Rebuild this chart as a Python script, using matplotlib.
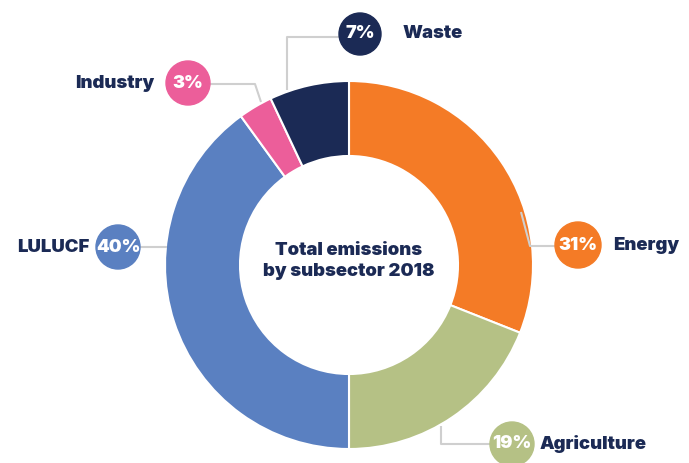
import matplotlib
matplotlib.use("Agg")
import matplotlib.pyplot as plt
from matplotlib.patches import Circle

# emissions share by subsector, 2018 (clockwise from 12 o'clock)
sectors = ["Energy", "Agriculture", "LULUCF", "Industry", "Waste"]
shares = [31, 19, 40, 3, 7]
colors = ["#F47B26", "#B5C185", "#5A80C1", "#EC5E9A", "#1B2A55"]

NAVY = "#1B2A55"
LINE = "#CFCFCF"
W, H = 689, 463

plt.rcParams["font.family"] = ["Inter", "DejaVu Sans"]

fig = plt.figure(figsize=(W / 100, H / 100), dpi=100)
ax = fig.add_axes([0, 0, 1, 1])

cx, cy, r = 349, H - 265, 184
ax.pie(shares, colors=colors, startangle=90, counterclock=False,
       center=(cx, cy), radius=r,
       wedgeprops=dict(width=75, edgecolor="white", linewidth=1.5))

ax.set_xlim(0, W)
ax.set_ylim(0, H)
ax.set_aspect("equal")
ax.axis("off")


def py(y):
    return H - y


# leader lines (pixel coords, y from top)
leaders = {
    "Waste": [(339, 37), (287, 37), (287, 90)],
    "Industry": [(210, 84), (255, 84), (261, 102)],
    "LULUCF": [(140, 247), (167, 247)],
    "Energy": [(521, 212), (530, 246), (556, 246)],
    "Agriculture": [(441, 426), (441, 444), (490, 444)],
}
for pts in leaders.values():
    ax.plot([p[0] for p in pts], [py(p[1]) for p in pts],
            color=LINE, lw=1.5, zorder=1, solid_capstyle="butt")

# badge centre, badge radius, name position and alignment
badges = {
    "Waste": ((360, 34), 21, (403, 34), "left"),
    "Industry": ((188, 83), 22, (154, 83), "right"),
    "LULUCF": ((118, 247), 22, (89, 247), "right"),
    "Energy": ((578, 245), 23, (613, 245), "left"),
    "Agriculture": ((512, 444), 22, (540, 444), "left"),
}
for name, share, col in zip(sectors, shares, colors):
    (bx, by), br, (tx, ty), ha = badges[name]
    ax.add_patch(Circle((bx, py(by)), br, color=col, zorder=3))
    ax.text(bx, py(by), f"{share}%", color="white", fontsize=13,
            fontweight=900, ha="center", va="center", zorder=4)
    ax.text(tx, py(ty), name, color=NAVY, fontsize=13.3,
            fontweight=900, ha=ha, va="center", zorder=4)

ax.text(cx, py(261), "Total emissions\nby subsector 2018", color=NAVY,
        fontsize=13.3, fontweight=900, ha="center", va="center",
        linespacing=1.3)

fig.savefig("out.png", dpi=100)
